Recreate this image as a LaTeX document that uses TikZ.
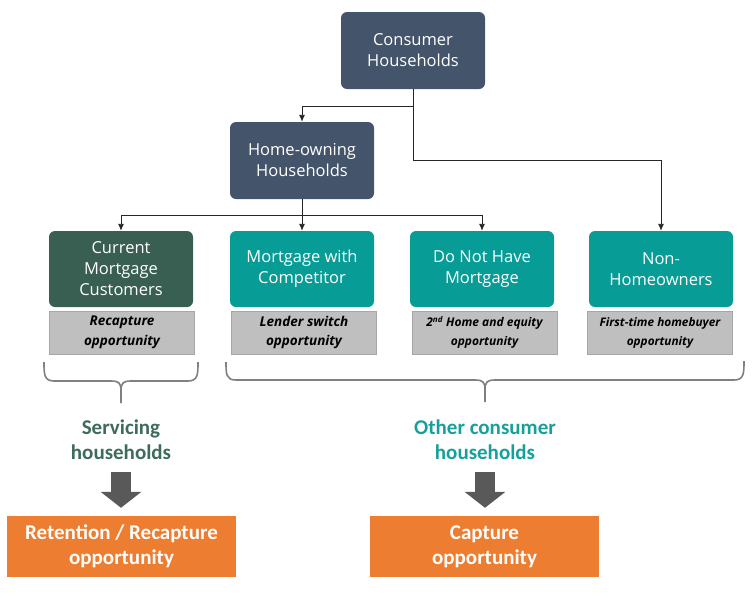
\documentclass[tikz,border=0pt]{standalone}
\usepackage{fontspec}
\setsansfont{Open Sans}
\newfontfamily\capfont{Carlito}
\usetikzlibrary{arrows.meta}

\definecolor{slate}{HTML}{44546A}
\definecolor{pine}{HTML}{385F51}
\definecolor{teal}{HTML}{089C97}
\definecolor{greybox}{HTML}{BFBFBF}
\definecolor{greyline}{HTML}{A6A6A6}
\definecolor{orangebox}{HTML}{ED7D31}
\definecolor{pinetext}{HTML}{3D6B5C}
\definecolor{tealtext}{HTML}{17A09B}

\begin{document}
\begin{tikzpicture}[x=1pt, y=-1pt, >={Latex[length=7pt,width=6pt]},
	box/.style={rounded corners=6pt, text=white, align=center, inner sep=0pt,
		minimum width=144pt, minimum height=77pt,
		font=\sffamily\fontsize{16.5}{21}\selectfont},
	topbox/.style={box, fill=slate},
	greenbox/.style={box, fill=pine, minimum height=76pt},
	tealbox/.style={box, fill=teal, minimum height=76pt},
	note/.style={fill=greybox, draw=greyline, line width=0.8pt, align=center, inner sep=0pt,
		minimum width=145pt, minimum height=43pt,
		font=\sffamily\bfseries\itshape\fontsize{13.5}{19.5}\selectfont},
	conn/.style={->, line width=0.9pt, draw=black!85},
	brace/.style={draw=black!50, line width=1.6pt},
	group/.style={align=center, font=\capfont\bfseries\fontsize{21}{25}\selectfont},
	result/.style={fill=orangebox, text=white, align=center, inner sep=0pt,
		minimum width=229pt, minimum height=61pt,
		font=\capfont\bfseries\fontsize{21}{25}\selectfont},
	bigarrow/.style={draw=black!65, line width=20pt, shorten >=8pt,
		-{Triangle[width=40pt,length=16pt]}}]
	\useasboundingbox (0,0) rectangle (755,600);

	% tree boxes
	\node[topbox] (cons) at (413,50.5) {Consumer\\Households};
	\node[topbox] (home) at (302,160.5) {Home-owning\\Households};
	\node[greenbox] (cur) at (121,269) {Current\\Mortgage\\Customers};
	\node[tealbox] (comp) at (302,269) {Mortgage with\\Competitor};
	\node[tealbox] (nomo) at (482,269) {Do Not Have\\Mortgage};
	\node[tealbox] (nonh) at (661,269) {Non-\\Homeowners};

	% opportunity notes
	\node[note] (curn) at (122,332.5) {Recapture\\opportunity};
	\node[note] (compn) at (304,332.5) {Lender switch\\opportunity};
	\node[note, font=\sffamily\bfseries\itshape\fontsize{12}{19}\selectfont] (nomon) at (484.5,332.5)
		{2\textsuperscript{nd} Home and equity\\opportunity};
	\node[note, font=\sffamily\bfseries\itshape\fontsize{11.8}{19}\selectfont] (nonhn) at (660,332.5)
		{First-time homebuyer\\opportunity};

	% connectors
	\draw[conn] (cons.south) -- ++(0,17) -| (home.north);
	\draw[conn] (cons.south) |- (home.east -| nonh.north) -- (nonh.north);
	\draw[line width=0.9pt, draw=black!85] (home.south) -- ++(0,16) coordinate (split);
	\draw[conn] (split) -| (cur.north);
	\draw[conn] (split) -- (comp.north);
	\draw[conn] (split) -| (nomo.north);

	% braces
	\coordinate (tipA) at (121,403);
	\coordinate (tipB) at (485,402);
	\draw[brace] (44,362) .. controls (44,374) and (44,381) .. (54,381) -- (111,381)
		.. controls (119,381) and (121,383) .. (121,391) -- (tipA);
	\draw[brace] (198,362) .. controls (198,374) and (198,381) .. (188,381) -- (131,381)
		.. controls (123,381) and (121,383) .. (121,391);
	\draw[brace] (226,362) .. controls (226,374) and (226,380) .. (236,380) -- (475,380)
		.. controls (483,380) and (485,382) .. (485,390) -- (tipB);
	\draw[brace] (744,361) .. controls (744,373) and (744,380) .. (734,380) -- (495,380)
		.. controls (487,380) and (485,382) .. (485,390);

	% groups and results
	\node[group, text=pinetext] (serv) at (121,440) {Servicing\\households};
	\node[group, text=tealtext] (other) at (485,440) {Other consumer\\households};
	\node[result] (ret) at (121.5,546.5) {Retention / Recapture\\opportunity};
	\node[result] (capt) at (484.5,546.5) {Capture\\opportunity};
	\draw[bigarrow] ([yshift=-9pt]serv.south) -- (serv.south |- ret.north);
	\draw[bigarrow] ([yshift=-9pt]other.south) -- (other.south |- capt.north);
\end{tikzpicture}
\end{document}
